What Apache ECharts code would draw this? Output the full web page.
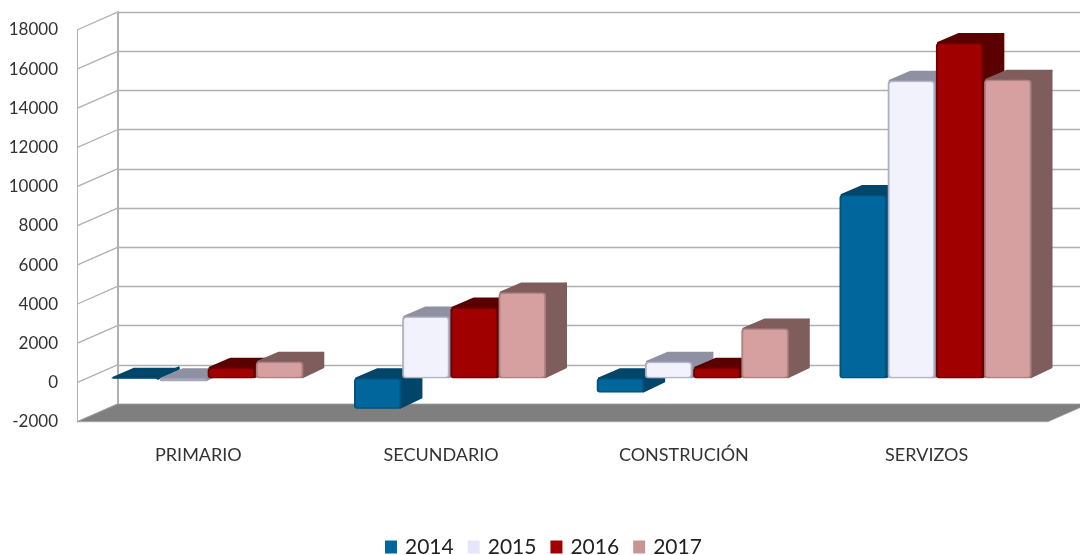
<!DOCTYPE html>
<html lang="gl">
<head>
    <meta charset="UTF-8">
    <title>Chart</title>
    <script src="https://cdn.jsdelivr.net/npm/echarts@6/dist/echarts.min.js"></script>
    <style>html, body { margin: 0; background: #fff; }</style>
</head>
<body>
    <div id="main" style="width:1080px;height:555px;"></div>
    <script type="text/javascript">
        const categories = ['PRIMARIO', 'SECUNDARIO', 'CONSTRUCIÓN', 'SERVIZOS'];
        const years = ['2014', '2015', '2016', '2017'];
        const values2014 = [30, -1550, -730, 9360];
        const values2015 = [-150, 3150, 850, 15190];
        const values2016 = [540, 3610, 540, 17120];
        const values2017 = [850, 4380, 2540, 15240];
        const yTicks = [-2000, 0, 2000, 4000, 6000, 8000, 10000, 12000, 14000, 16000, 18000];

        const seriesValues = [values2014, values2015, values2016, values2017];

        // face colours per year
        const swatch = ['#00669b', '#e6e6fa', '#a00000', '#c99594'];
        const front = ['#00669b', '#f2f2fc', '#a00000', '#d6a0a0'];
        const edge = ['#00507c', '#a6a6bd', '#6c0000', '#a67c7c'];
        const side = ['#00456a', '#8f91a3', '#5a0000', '#7f5d5d'];

        // fake 3D: wall depth and bar depth in pixels
        const wallDx = 40.5, wallDy = -17.8;
        const barDx = 21, barDy = -10;
        const planeDx = 9.3, planeDy = -4.3;
        const barStep = 48.2;

        function barItem(seriesIdx) {
            return function (params, api) {
                const c = api.coord([api.value(0), api.value(1)]);
                const z = api.coord([api.value(0), 0]);
                const left = c[0] + planeDx + (seriesIdx - 2) * barStep;
                const right = left + barStep - 0.8;
                const y0 = Math.min(c[1], z[1]) + planeDy;
                const y1 = Math.max(c[1], z[1]) + planeDy;
                const inset = Math.min(1.5, (y1 - y0) / 2);
                const faceStyle = { fill: side[seriesIdx], stroke: side[seriesIdx], lineWidth: 2, lineJoin: 'round' };
                return {
                    type: 'group',
                    silent: true,
                    children: [
                        {
                            type: 'polygon',
                            shape: { points: [[left + 2, y0], [left + barDx + 2, y0 + barDy + 1], [right + barDx - 1, y0 + barDy + 1], [right - 1, y0]] },
                            style: faceStyle
                        },
                        {
                            type: 'polygon',
                            shape: { points: [[right - 1, y0 + 1], [right + barDx - 1, y0 + barDy + 1], [right + barDx - 1, y1 + barDy - 1], [right - 1, y1 - 1]] },
                            style: faceStyle
                        },
                        {
                            type: 'rect',
                            shape: { x: left, y: y0, width: right - left, height: y1 - y0, r: 3 },
                            style: { fill: edge[seriesIdx] }
                        },
                        {
                            type: 'rect',
                            shape: { x: left + 2, y: y0 + inset, width: right - left - 4, height: y1 - y0 - 2 * inset, r: 2 },
                            style: { fill: front[seriesIdx], shadowBlur: 2, shadowColor: front[seriesIdx] }
                        }
                    ]
                };
            };
        }

        // side wall lines and the floor, hung on the front value axis
        function wallItem(params, api) {
            const tick = api.value(1);
            const p = api.coord([0, tick]);
            const x = p[0] - api.size([1, 0])[0] / 2;
            const children = [{
                type: 'line',
                shape: { x1: x, y1: p[1], x2: x + wallDx, y2: p[1] + wallDy },
                style: { stroke: '#b0b0b0', lineWidth: 1.3 }
            }];
            if (tick === yTicks[0]) {
                const xEnd = api.coord([categories.length - 1, tick])[0] + api.size([1, 0])[0] / 2;
                children.push({
                    type: 'polygon',
                    shape: { points: [[x, p[1]], [x + wallDx, p[1] + wallDy], [xEnd + wallDx, p[1] + wallDy], [xEnd, p[1]]] },
                    style: { fill: '#7f7f7f', stroke: '#a8a8a8', lineWidth: 0.6 }
                });
            }
            return { type: 'group', silent: true, children: children };
        }

        const series = [
            {
                type: 'custom',
                xAxisIndex: 0,
                yAxisIndex: 0,
                renderItem: wallItem,
                encode: { x: 0, y: 1 },
                data: yTicks.map(t => [0, t]),
                clip: false,
                z: 1
            }
        ];
        years.forEach((year, i) => {
            series.push({
                name: year,
                type: 'custom',
                xAxisIndex: 0,
                yAxisIndex: 0,
                renderItem: barItem(i),
                encode: { x: 0, y: 1 },
                data: seriesValues[i].map((v, k) => [k, v]),
                itemStyle: { color: swatch[i] },
                clip: false,
                z: 3
            });
        });

        const myChart = echarts.init(document.getElementById('main'));
        myChart.setOption({
            animation: false,
            backgroundColor: '#fff',
            textStyle: { fontFamily: 'Lato' },
            legend: {
                data: years,
                left: 385,
                top: 535,
                padding: 0,
                icon: 'rect',
                itemWidth: 12,
                itemHeight: 13,
                itemGap: 14,
                textStyle: { fontSize: 21, color: '#222', fontFamily: 'Lato', padding: [0, 0, 0, 3], lineHeight: 24 }
            },
            grid: [
                { left: 77, right: 32, top: 30, bottom: 133.2 },
                { left: 117.5, right: 0, top: 12.2, bottom: 151 }
            ],
            xAxis: [
                {
                    type: 'category',
                    data: categories,
                    gridIndex: 0,
                    axisLine: { show: false },
                    axisTick: { show: false },
                    axisLabel: { margin: 24, fontSize: 18, color: '#333', fontFamily: 'Lato' }
                },
                { type: 'category', data: categories, gridIndex: 1, show: false }
            ],
            yAxis: [
                {
                    type: 'value',
                    gridIndex: 0,
                    min: -2000,
                    max: 18000,
                    interval: 2000,
                    axisLine: { show: true, lineStyle: { color: '#b0b0b0', width: 1 } },
                    axisTick: { show: false },
                    splitLine: { show: false },
                    axisLabel: {
                        margin: 19,
                        fontSize: 17,
                        color: '#333',
                        fontFamily: 'Lato',
                        padding: [0, 0, 5, 0],
                        formatter: value => String(value)
                    }
                },
                {
                    type: 'value',
                    gridIndex: 1,
                    min: -2000,
                    max: 18000,
                    interval: 2000,
                    axisLine: { show: true, lineStyle: { color: '#b0b0b0', width: 2 } },
                    axisTick: { show: false },
                    axisLabel: { show: false },
                    splitLine: { show: true, lineStyle: { color: '#b0b0b0', width: 1.3 } }
                }
            ],
            series: series
        });
    </script>
</body>
</html>
